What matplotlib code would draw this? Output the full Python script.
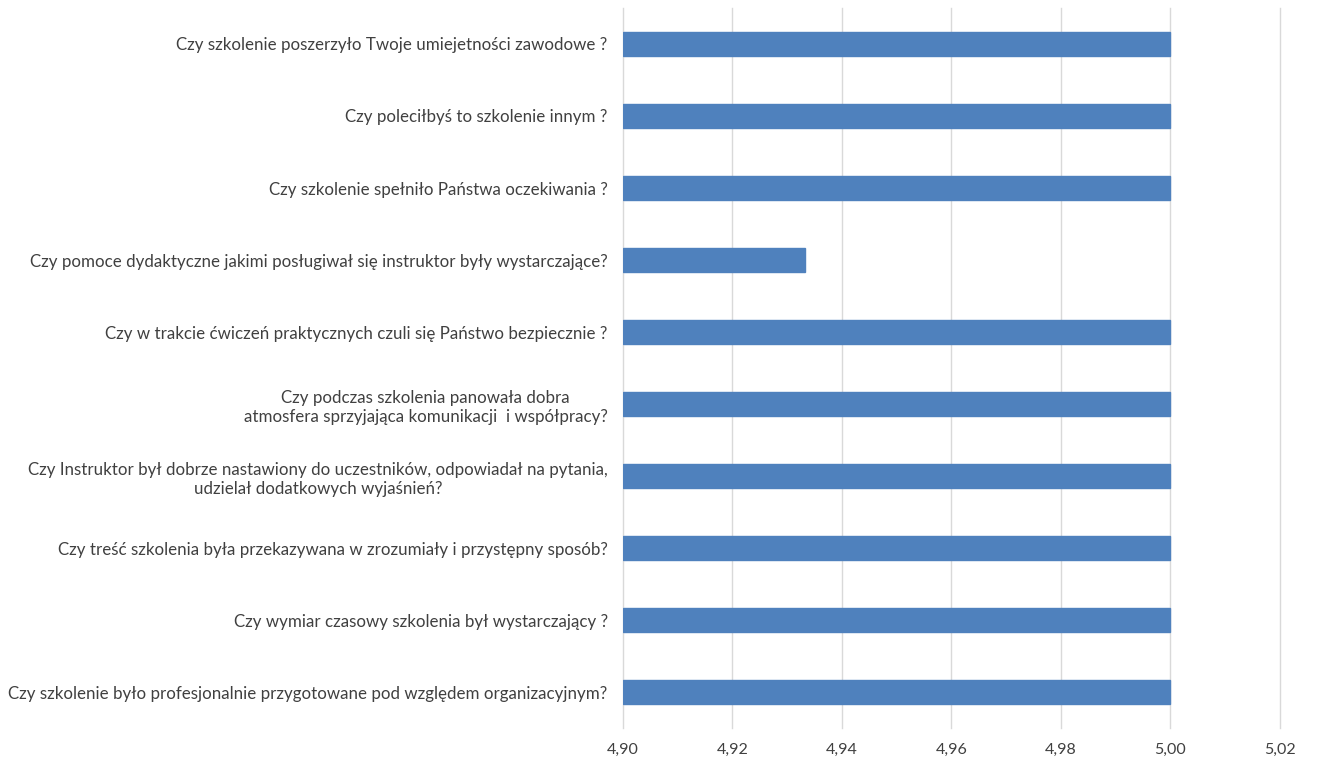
import numpy as np
import matplotlib
matplotlib.use("Agg")
import matplotlib.pyplot as plt
from matplotlib.ticker import FuncFormatter

# questions listed top to bottom
questions = [
    "Czy szkolenie poszerzyło Twoje umiejetności zawodowe ?",
    "Czy poleciłbyś to szkolenie innym ?",
    "Czy szkolenie spełniło Państwa oczekiwania ?",
    "Czy pomoce dydaktyczne jakimi posługiwał się instruktor były wystarczające?",
    "Czy w trakcie ćwiczeń praktycznych czuli się Państwo bezpiecznie ?",
    "Czy podczas szkolenia panowała dobra\natmosfera sprzyjająca komunikacji  i współpracy?",
    "Czy Instruktor był dobrze nastawiony do uczestników, odpowiadał na pytania,\nudzielał dodatkowych wyjaśnień?",
    "Czy treść szkolenia była przekazywana w zrozumiały i przystępny sposób?",
    "Czy wymiar czasowy szkolenia był wystarczający ?",
    "Czy szkolenie było profesjonalnie przygotowane pod względem organizacyjnym?",
]
scores = [5.00, 5.00, 5.00, 4.9333, 5.00, 5.00, 5.00, 5.00, 5.00, 5.00]
x_ticks = [4.90, 4.92, 4.94, 4.96, 4.98, 5.00, 5.02]

plt.rcParams['font.family'] = ['Lato', 'DejaVu Sans']
text_col = '#404040'

fig = plt.figure(figsize=(13.17, 7.69), dpi=100)
ax = fig.add_axes([0.4730, 0.0533, 0.4989, 0.9363])

base = 4.90
ypos = np.arange(len(questions))
ax.barh(ypos, np.array(scores) - base, left=base, height=0.333,
        color='#4F81BD', edgecolor='#4F81BD', zorder=3)

ax.set_xlim(4.90, 5.02)
ax.set_ylim(len(questions) - 0.5, -0.5)
ax.set_xticks(x_ticks)
ax.xaxis.set_major_formatter(FuncFormatter(lambda v, p: f"{v:.2f}".replace('.', ',')))
ax.set_yticks(ypos)
ax.set_yticklabels(questions, multialignment='center', linespacing=1.25)
ax.tick_params(axis='y', length=0, labelsize=12.2, colors=text_col, pad=11)
ax.tick_params(axis='x', length=0, labelsize=11.5, colors=text_col, pad=11)
ax.grid(axis='x', color='#D9D9D9', linewidth=1.0, zorder=0)
for gl in ax.get_xgridlines():
    gl.set_clip_on(False)
for s in ax.spines.values():
    s.set_visible(False)

fig.savefig("out.png", dpi=100)
